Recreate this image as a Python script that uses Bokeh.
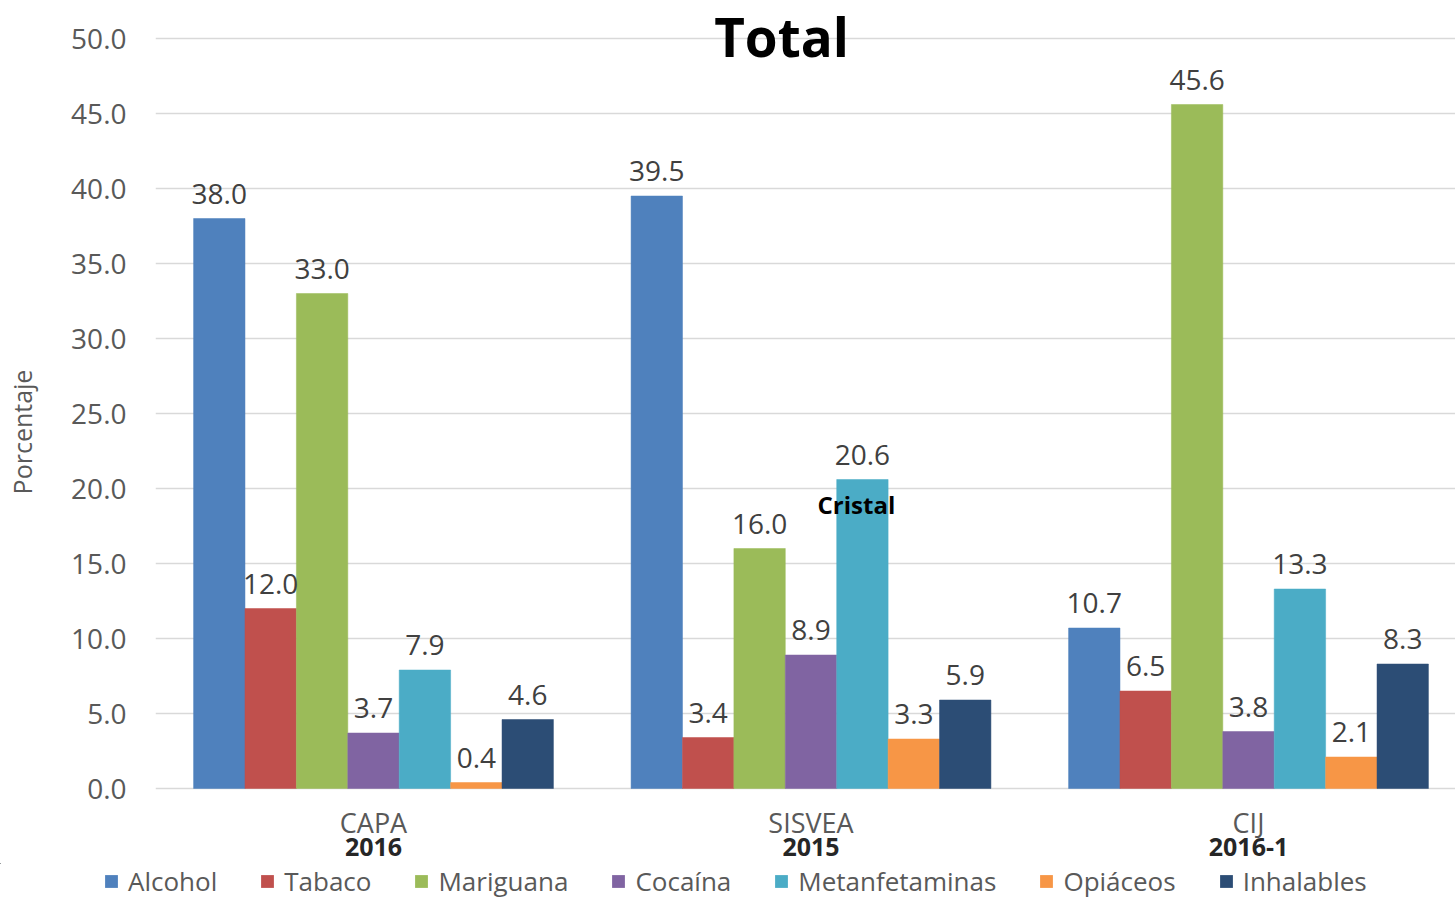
from bokeh.plotting import figure
from bokeh.models import (ColumnDataSource, FixedTicker, Label, Legend, LegendItem,
                          NumeralTickFormatter, Range1d, LabelSet)
from bokeh.core.properties import value
from bokeh.embed import file_html
from bokeh.resources import INLINE

# ---------------- data ----------------
groups = ["CAPA", "SISVEA", "CIJ"]
years = ["2016", "2015", "2016-1"]
substances = ["Alcohol", "Tabaco", "Mariguana", "Cocaína", "Metanfetaminas", "Opiáceos", "Inhalables"]
colors = ["#4F81BD", "#C0504D", "#9BBB59", "#8064A2", "#4BACC6", "#F79646", "#2C4D75"]
alcohol = [38.0, 39.5, 10.7]
tabaco = [12.0, 3.4, 6.5]
mariguana = [33.0, 16.0, 45.6]
cocaina = [3.7, 8.9, 3.8]
metanfetaminas = [7.9, 20.6, 13.3]
opiaceos = [0.4, 3.3, 2.1]
inhalables = [4.6, 5.9, 8.3]
series = [alcohol, tabaco, mariguana, cocaina, metanfetaminas, opiaceos, inhalables]
y_ticks = [0, 5, 10, 15, 20, 25, 30, 35, 40, 45, 50]
title_text = "Total"
y_title = "Porcentaje"
note_text = "Cristal"

FONT = "Open Sans"
W = 1455
H_MAIN, H_LEG = 863, 36
LEFT = 155
BAR_W = 0.1175
PX_PER_GROUP = 437.5
PX_PER_UNIT = 15.0
ZERO_Y = 788           # screen row of value 0
x_start = -(373 - LEFT) / PX_PER_GROUP
x_end = x_start + (W - LEFT) / PX_PER_GROUP
y_end = ZERO_Y / PX_PER_UNIT
y_start = -(H_MAIN - ZERO_Y) / PX_PER_UNIT

p = figure(width=W, height=H_MAIN, output_backend="svg", toolbar_location=None,
           x_range=Range1d(x_start, x_end), y_range=Range1d(y_start, y_end),
           min_border_left=LEFT, min_border_right=0, min_border_top=0, min_border_bottom=0)
p.outline_line_color = None
p.xgrid.grid_line_color = None
p.ygrid.grid_line_color = "#D9D9D9"
p.ygrid.grid_line_width = 1.5
p.xaxis.visible = False

gx = list(range(len(groups)))
sources = []
for i, (name, col, vals) in enumerate(zip(substances, colors, series)):
    xs = [g + (i - 3) * BAR_W for g in gx]
    src = ColumnDataSource(dict(x=xs, top=vals, lab=[f"{v:.1f}" for v in vals]))
    sources.append(src)
    p.vbar(x="x", top="top", bottom=0, width=BAR_W, source=src, fill_color=col,
           line_color=col, line_width=0.5)
    p.add_layout(LabelSet(x="x", y="top", text="lab", source=src, text_align="center",
                          text_baseline="middle", y_offset=25, text_font=value(FONT),
                          text_font_size="28px", text_color="#404040"))

# category names and years under the groups
cat_src = ColumnDataSource(dict(x=gx, y=[0] * len(gx), name=groups, year=years))
p.text(x="x", y="y", text="name", source=cat_src, y_offset=34, text_align="center",
       text_baseline="middle", text_font=value(FONT), text_font_size="27px", text_color="#595959")
p.text(x="x", y="y", text="year", source=cat_src, y_offset=58, text_align="center",
       text_baseline="middle", text_font=value(FONT), text_font_size="25px",
       text_font_style="bold", text_color="#262626")

# y axis
p.yaxis.ticker = FixedTicker(ticks=y_ticks)
p.yaxis.formatter = NumeralTickFormatter(format="0.0")
p.yaxis.axis_line_color = None
p.yaxis.major_tick_line_color = None
p.yaxis.minor_tick_line_color = None
p.yaxis.major_label_standoff = 23
p.yaxis.major_label_text_font = FONT
p.yaxis.major_label_text_font_size = "28px"
p.yaxis.major_label_text_color = "#595959"
p.yaxis.axis_label = y_title
p.yaxis.axis_label_standoff = 29
p.yaxis.axis_label_text_font = FONT
p.yaxis.axis_label_text_font_size = "25px"
p.yaxis.axis_label_text_font_style = "normal"
p.yaxis.axis_label_text_color = "#595959"

# title
p.add_layout(Label(x=781 - LEFT, y=H_MAIN - 36, x_units="screen", y_units="screen", text=title_text,
                   text_align="center", text_baseline="middle", text_font=FONT,
                   text_font_size="53px", text_font_style="bold", text_color="black"))
# note on SISVEA metanfetaminas bar
p.add_layout(Label(x=gx[1] + (4 - 3) * BAR_W, y=metanfetaminas[1], x_offset=-6, y_offset=-25,
                   text=note_text, text_align="center", text_baseline="middle", text_font=FONT,
                   text_font_size="24px", text_font_style="bold", text_color="black"))

# legend strip below the chart (its renderers share the bar data; flat bars outside the view)
pl = figure(width=W, height=H_LEG, output_backend="svg", toolbar_location=None,
            x_range=Range1d(10, 11), y_range=Range1d(0, 1),
            x_axis_location=None, y_axis_location=None,
            min_border_left=0, min_border_right=0, min_border_top=0, min_border_bottom=0)
pl.grid.visible = False
pl.outline_line_color = None
items = []
for name, col, src in zip(substances, colors, sources):
    r = pl.vbar(x="x", top="top", bottom="top", width=BAR_W, source=src,
                fill_color=col, line_color=None)
    items.append(LegendItem(label=name, renderers=[r]))
legend = Legend(items=items, orientation="horizontal", location=(103, 0),
                glyph_width=16, glyph_height=16, label_standoff=9, spacing=42,
                padding=0, margin=0, border_line_color=None, background_fill_alpha=0,
                label_text_font=FONT, label_text_font_size="26px", label_text_color="#595959")
pl.add_layout(legend, "center")

open("out.html", "w").write(file_html([p, pl], INLINE))
